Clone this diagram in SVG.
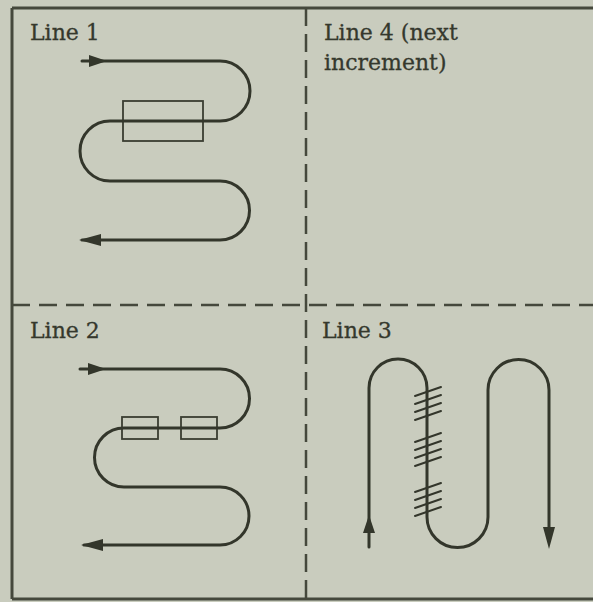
<svg xmlns="http://www.w3.org/2000/svg" width="593" height="602" viewBox="0 0 593 602">
<style>
.lbl{font-family:"DejaVu Serif","Liberation Serif",serif;font-size:22px;fill:#35382d;stroke:#35382d;stroke-width:0.3}
.frame{stroke:#45483c;stroke-width:3;fill:none}
.dash{stroke:#45483c;stroke-width:2.5;fill:none}
.path{stroke:#33362b;stroke-width:3;fill:none;stroke-linecap:round}
.box{stroke:#3a3d31;stroke-width:1.8;fill:none}
.hatch{stroke:#33362b;stroke-width:2;fill:none;stroke-linecap:round}
.ah{fill:#33362b}
</style>
<rect x="0" y="0" width="593" height="602" fill="#c9ccbe"/>
<g id="frame">
<line class="frame" x1="12" y1="8" x2="593" y2="8"/>
<line class="frame" x1="12" y1="8" x2="12" y2="599"/>
<line class="frame" x1="12" y1="599" x2="593" y2="599"/>
<line class="dash" x1="306" y1="8" x2="306" y2="599" stroke-dasharray="18 8"/>
<line class="dash" x1="12" y1="305" x2="593" y2="305" stroke-dasharray="18 9"/>
</g>
<g id="panel-line1">
<text class="lbl" x="30" y="40">Line 1</text>
<rect class="box" x="123" y="101" width="80" height="40"/>
</g>
<g id="panel-line4">
<text class="lbl" x="324" y="40">Line 4 (next</text>
<text class="lbl" x="324" y="70">increment)</text>
</g>
<g id="panel-line2">
<text class="lbl" x="30" y="338">Line 2</text>
<rect class="box" x="122" y="417" width="36" height="22"/>
<rect class="box" x="181" y="417" width="36" height="22"/>
</g>
<g id="panel-line3">
<text class="lbl" x="322" y="338">Line 3</text>
<g id="hatching">
<line class="hatch" x1="415" y1="396" x2="441" y2="387"/>
<line class="hatch" x1="415" y1="404" x2="441" y2="395"/>
<line class="hatch" x1="415" y1="412" x2="441" y2="403"/>
<line class="hatch" x1="415" y1="420" x2="441" y2="411"/>
<line class="hatch" x1="415" y1="442" x2="441" y2="433"/>
<line class="hatch" x1="415" y1="450" x2="441" y2="441"/>
<line class="hatch" x1="415" y1="458" x2="441" y2="449"/>
<line class="hatch" x1="415" y1="466" x2="441" y2="457"/>
<line class="hatch" x1="415" y1="492" x2="441" y2="483"/>
<line class="hatch" x1="415" y1="500" x2="441" y2="491"/>
<line class="hatch" x1="415" y1="508" x2="441" y2="499"/>
<line class="hatch" x1="415" y1="516" x2="441" y2="507"/>
</g>
</g>
<g id="connectors">
<path class="path" d="M82,61 L220,61 A30,30 0 0 1 220,121 L110,121 A30,30 0 0 0 110,181 L220,181 A29.5,29.5 0 0 1 220,240 L82,240"/>
<polygon class="ah" points="89,55 107,61 89,67"/>
<polygon class="ah" points="79,240 101,234 101,246"/>
<path class="path" d="M80,369 L220,369 A29.5,29.5 0 0 1 220,428 L124,428 A29.5,29.5 0 0 0 124,487 L220,487 A29,29 0 0 1 220,545 L84,545"/>
<polygon class="ah" points="88,363 106,369 88,375"/>
<polygon class="ah" points="81,545 103,539 103,551"/>
<path class="path" d="M369,547 L369,388 A29,29 0 0 1 427,388 L427,517 A30.5,30.5 0 0 0 488,517 L488,390 A30.5,30.5 0 0 1 549,390 L549,540"/>
<polygon class="ah" points="369,515 375,533 363,533"/>
<polygon class="ah" points="549,549 543,527 555,527"/>
</g>
</svg>
